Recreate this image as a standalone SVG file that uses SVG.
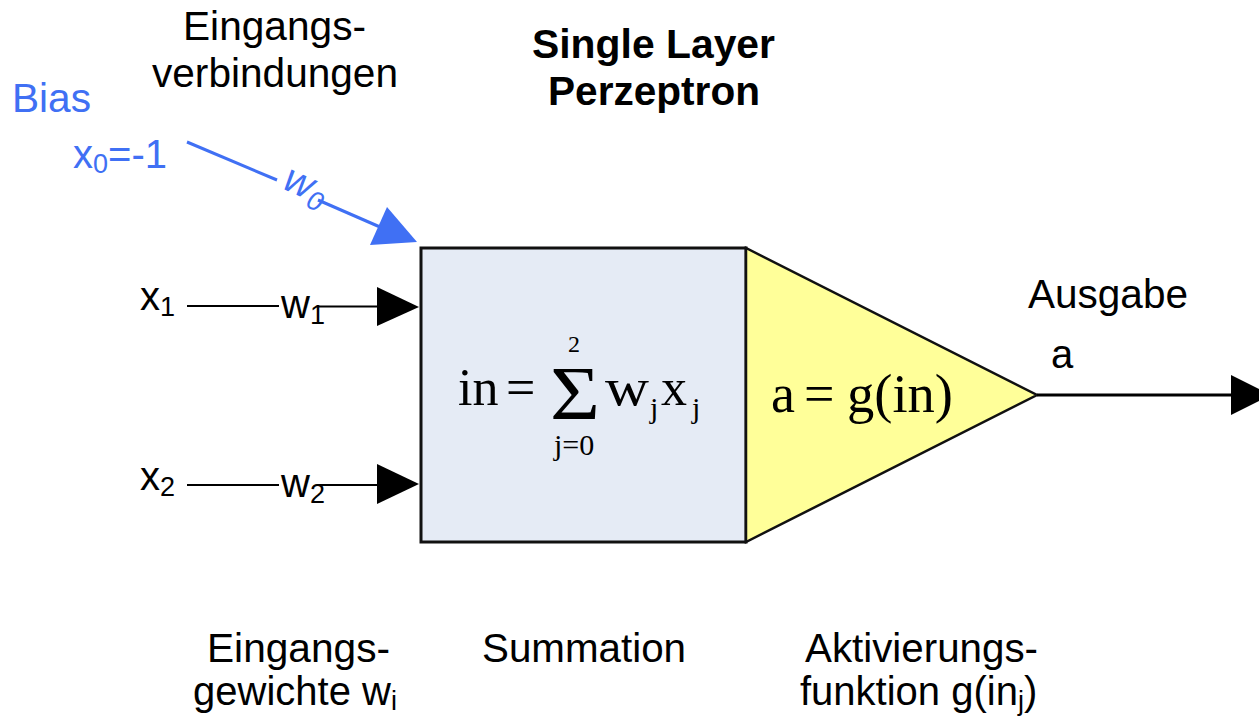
<svg xmlns="http://www.w3.org/2000/svg" width="1259" height="718" viewBox="0 0 1259 718">
<style>
.lab{font-family:"Liberation Sans",Arial,sans-serif;font-size:40px;fill:#000}
.bold{font-weight:bold}
.blue{fill:#4070f4}
.sub{font-size:27px}
.math{font-family:"Liberation Serif","Times New Roman",serif;fill:#000}
.ln{stroke:#000;stroke-width:2;fill:none}
.bln{stroke:#4070f4;stroke-width:3;fill:none}
</style>
<rect width="1259" height="718" fill="#fff"/>
<g id="title">
<text class="lab bold" x="532" y="58" textLength="243" lengthAdjust="spacingAndGlyphs">Single Layer</text>
<text class="lab bold" x="548" y="105" textLength="212" lengthAdjust="spacingAndGlyphs">Perzeptron</text>
</g>
<g id="label-eingangsverbindungen">
<text class="lab" x="183" y="40" textLength="183" lengthAdjust="spacingAndGlyphs">Eingangs-</text>
<text class="lab" x="152" y="87" textLength="246" lengthAdjust="spacingAndGlyphs">verbindungen</text>
</g>
<g id="bias">
<text class="lab blue" x="12" y="112" textLength="79" lengthAdjust="spacingAndGlyphs">Bias</text>
<text class="lab blue" x="73" y="168">x<tspan class="sub" dy="5">0</tspan><tspan dy="-5">=-1</tspan></text>
</g>
<g id="input-x1">
<text class="lab" x="140" y="310">x<tspan class="sub" dy="6">1</tspan></text>
</g>
<g id="input-x2">
<text class="lab" x="140" y="490">x<tspan class="sub" dy="6">2</tspan></text>
</g>
<g id="summation">
<rect x="421" y="248" width="325" height="294" fill="#e5ebf5" stroke="#111" stroke-width="3"/>
<text class="math" x="458" y="405" font-size="52">in</text>
<text class="math" x="506" y="405" font-size="52">=</text>
<text class="math" x="550" y="419" font-size="76" textLength="50" lengthAdjust="spacingAndGlyphs">Σ</text>
<text class="math" x="568" y="352" font-size="24">2</text>
<text class="math" x="554" y="455" font-size="30">j=0</text>
<text class="math" x="605" y="405" font-size="52" textLength="44" lengthAdjust="spacingAndGlyphs">w</text>
<text class="math" x="650" y="418" font-size="30">j</text>
<text class="math" x="661" y="405" font-size="52">x</text>
<text class="math" x="692" y="418" font-size="30">j</text>
</g>
<g id="activation">
<polygon points="746,248 746,542 1037,395" fill="#ffff99" stroke="#111" stroke-width="2.5" stroke-linejoin="miter"/>
<text class="math" x="771" y="412" font-size="54">a</text>
<text class="math" x="804" y="412" font-size="54">=</text>
<text class="math" x="847" y="412" font-size="54" textLength="106" lengthAdjust="spacingAndGlyphs">g(in)</text>
</g>
<g id="output">
<text class="lab" x="1028" y="308" textLength="160" lengthAdjust="spacingAndGlyphs">Ausgabe</text>
<text class="lab" x="1051" y="368">a</text>
</g>
<g id="bottom-labels">
<text class="lab" x="207" y="662" textLength="183" lengthAdjust="spacingAndGlyphs">Eingangs-</text>
<text class="lab" x="193" y="705">gewichte w<tspan class="sub" dy="5">i</tspan></text>
<text class="lab" x="482" y="662" textLength="204" lengthAdjust="spacingAndGlyphs">Summation</text>
<text class="lab" x="805" y="662" textLength="233" lengthAdjust="spacingAndGlyphs">Aktivierungs-</text>
<text class="lab" x="800" y="705">funktion g(in<tspan class="sub" dy="5">j</tspan><tspan dy="-5">)</tspan></text>
</g>
<g id="connectors">
<line class="bln" x1="187" y1="142" x2="277" y2="180"/>
<line class="bln" x1="318" y1="200" x2="380" y2="227"/>
<polygon points="387,207 370,245 417,242" fill="#4070f4"/>
<text class="lab blue" font-style="italic" font-size="38" transform="translate(281,188) rotate(24)">w<tspan class="sub" dy="7">0</tspan></text>
<line class="ln" x1="187" y1="306" x2="279" y2="306"/>
<line class="ln" x1="318" y1="306.5" x2="380" y2="306.5"/>
<polygon points="377,287 377,326 419,307" fill="#000"/>
<text class="lab" x="281" y="318">w<tspan class="sub" dy="6">1</tspan></text>
<line class="ln" x1="187" y1="485" x2="279" y2="485"/>
<line class="ln" x1="318" y1="485" x2="380" y2="485"/>
<polygon points="377,464 377,504 419,484" fill="#000"/>
<text class="lab" x="281" y="497">w<tspan class="sub" dy="6">2</tspan></text>
<line x1="1037" y1="395" x2="1233" y2="395" stroke="#000" stroke-width="3"/>
<polygon points="1231,375 1231,415 1271,395" fill="#000"/>
</g>
</svg>
